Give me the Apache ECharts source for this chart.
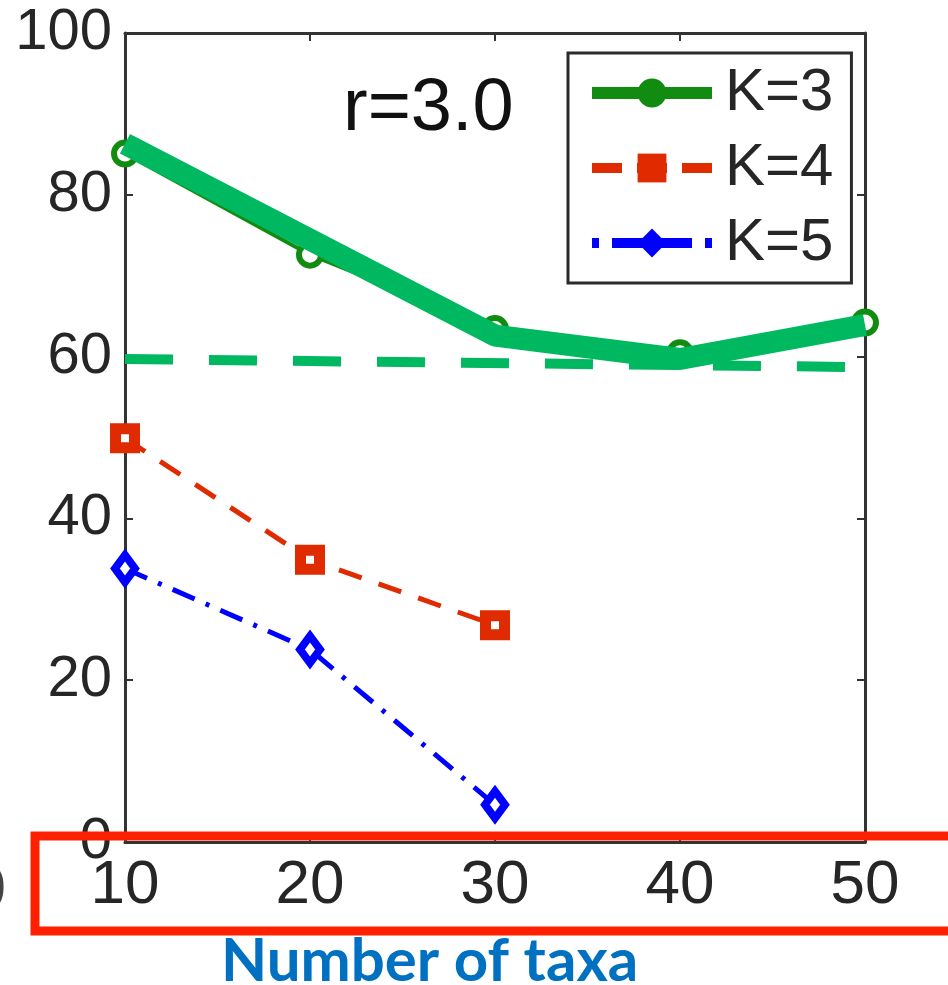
<!DOCTYPE html>
<html>
<head>
<meta charset="utf-8">
<script src="https://cdn.jsdelivr.net/npm/echarts@6/dist/echarts.min.js"></script>
<style>
html,body{margin:0;padding:0;background:#fff;}
#chart{width:948px;height:985px;}
</style>
</head>
<body>
<div id="chart"></div>
<script>
// ---- data ----
var xTicks = [10, 20, 30, 40, 50];
var k3X = [10, 20, 30, 40, 50];
var k3Y = [85.1, 72.6, 63.4, 60.4, 64.2];
var k4X = [10, 20, 30];
var k4Y = [49.9, 34.9, 26.8];
var k5X = [10, 20, 30];
var k5Y = [33.8, 23.8, 4.6];
var highlightX = [10, 30, 40, 50];
var highlightY = [86.3, 62.6, 59.7, 63.9];
var baselineX = [10, 50];
var baselineY = [59.7, 58.7];
var seriesNames = ['K=3', 'K=4', 'K=5'];
var panelLabel = 'r=3.0';
var xTitle = 'Number of taxa';

function pairs(xs, ys) { return xs.map(function (x, i) { return [x, ys[i]]; }); }

var GREEN = '#118c11', RED = '#E02A00', BLUE = '#0000FF', HL = '#00B860';
var axisCol = '#333333', txtCol = '#262626';
var FONT = 'Liberation Sans, Arial, sans-serif';

var chart = echarts.init(document.getElementById('chart'), null, {renderer: 'canvas'});

function boxAxis(pos, showLabel, isX) {
  return {
    type: 'value', position: pos, min: isX ? 10 : 0, max: isX ? 50 : 100, interval: isX ? 10 : 20,
    axisLine: {show: true, onZero: false, lineStyle: {color: axisCol, width: 3}},
    axisTick: {show: true, inside: true, length: 8, lineStyle: {color: axisCol, width: 2}},
    splitLine: {show: false},
    axisLabel: {show: showLabel, color: txtCol, fontFamily: FONT, fontSize: isX ? 62 : 58, margin: isX ? 13 : 13}
  };
}

var option = {
  animation: false,
  backgroundColor: '#ffffff',
  grid: {left: 125, right: 83, top: 33, bottom: 143, containLabel: false},
  xAxis: [boxAxis('bottom', true, true), boxAxis('top', false, true)],
  yAxis: [boxAxis('left', true, false), boxAxis('right', false, false)],
  legend: {
    orient: 'vertical', left: 568, top: 53,
    backgroundColor: '#ffffff', borderColor: '#2b2b2b', borderWidth: 3,
    padding: [10, 18, 10, 18], itemWidth: 120, itemHeight: 36, itemGap: 15,
    textStyle: {fontFamily: FONT, fontSize: 60, color: txtCol, padding: [0, 0, 0, 8]},
    data: [
      {name: seriesNames[0], itemStyle: {color: GREEN, borderWidth: 0}, lineStyle: {color: GREEN, width: 12, type: 'solid'}},
      {name: seriesNames[1], itemStyle: {color: RED, borderWidth: 0}, lineStyle: {color: RED, width: 10, type: [30, 15]}},
      {name: seriesNames[2], itemStyle: {color: BLUE, borderWidth: 0}, lineStyle: {color: BLUE, width: 10, type: [7, 13, 80, 13]}}
    ]
  },
  series: [
    {
      name: seriesNames[0], type: 'line', data: pairs(k3X, k3Y), z: 2,
      symbol: 'circle', symbolSize: 22,
      itemStyle: {color: '#ffffff', borderColor: GREEN, borderWidth: 6},
      lineStyle: {color: GREEN, width: 4}
    },
    {
      name: seriesNames[1], type: 'line', data: pairs(k4X, k4Y), z: 2,
      symbol: 'rect', symbolSize: 19,
      itemStyle: {color: '#ffffff', borderColor: RED, borderWidth: 11},
      lineStyle: {color: RED, width: 5, type: [24, 18]}
    },
    {
      name: seriesNames[2], type: 'line', data: pairs(k5X, k5Y), z: 2,
      symbol: 'diamond', symbolSize: [20, 27],
      itemStyle: {color: '#ffffff', borderColor: BLUE, borderWidth: 8},
      lineStyle: {color: BLUE, width: 5, type: [24, 12, 4, 12]}
    },
    {
      name: 'baseline', type: 'line', data: pairs(baselineX, baselineY), z: 3,
      symbol: 'none', lineStyle: {color: HL, width: 10, type: [48, 36]}
    },
    {
      name: 'highlight', type: 'line', data: pairs(highlightX, highlightY), z: 5,
      symbol: 'none', lineStyle: {color: HL, width: 22, join: 'bevel', cap: 'butt'}
    }
  ],
  graphic: [
    {type: 'text', left: 343, top: 73, z: 10,
      style: {text: panelLabel, font: '74px ' + FONT, fill: '#111111'}},
    {type: 'text', left: 221, top: 932, z: 10,
      style: {text: xTitle, font: 'bold 60px Lato, sans-serif', fill: '#0070C0'}},
    {type: 'text', right: 942, top: 860, z: 10,
      style: {text: '0', font: '62px ' + FONT, fill: '#444444'}},
    {type: 'rect', z: 100, shape: {x: 35, y: 836, width: 960, height: 95},
      style: {fill: null, stroke: '#FF2000', lineWidth: 9}}
  ]
};
chart.setOption(option);
</script>
</body>
</html>
